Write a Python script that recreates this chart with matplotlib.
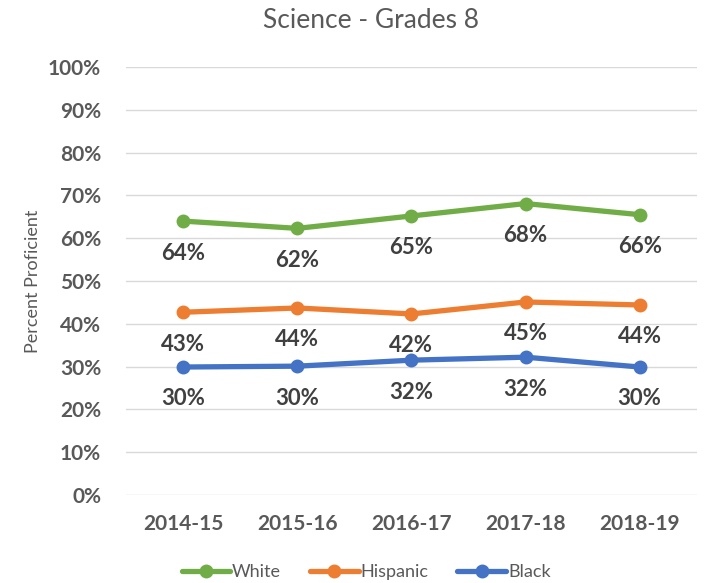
import matplotlib.pyplot as plt
from matplotlib.ticker import PercentFormatter

plt.rcParams['font.family'] = ['Lato', 'DejaVu Sans']

years = ['2014-15', '2015-16', '2016-17', '2017-18', '2018-19']
white = [0.640, 0.623, 0.652, 0.681, 0.655]
hispanic = [0.427, 0.437, 0.423, 0.451, 0.444]
black = [0.299, 0.301, 0.315, 0.322, 0.299]

series = [('White', white, '#70AD47'),
          ('Hispanic', hispanic, '#ED7D31'),
          ('Black', black, '#4472C4')]

fig = plt.figure(figsize=(7.25, 5.83), dpi=100)
ax = fig.add_axes([0.174, 0.151, 0.787, 0.734])

x = list(range(len(years)))
for name, vals, color in series:
    ax.plot(x, vals, color=color, lw=3.8, marker='o', ms=9, label=name,
            solid_capstyle='round')
    for xi, v in zip(x, vals):
        ax.annotate(f'{round(v * 100):.0f}%', (xi, v), xytext=(0, -23),
                    textcoords='offset points', ha='center', va='center',
                    fontsize=16, fontweight='bold', color='#404040')

ax.set_xlim(-0.5, len(years) - 0.5)
ax.set_ylim(0, 1)
ax.set_yticks([i / 10 for i in range(11)])
ax.yaxis.set_major_formatter(PercentFormatter(1.0, decimals=0))
ax.set_xticks(x)
ax.set_xticklabels(years)
ax.grid(axis='y', color='#D9D9D9', lw=1)
ax.set_axisbelow(True)
for s in ax.spines.values():
    s.set_visible(False)
ax.tick_params(length=0, labelsize=15, labelcolor='#595959')
ax.tick_params(axis='y', pad=18)
ax.tick_params(axis='x', pad=14)
for lbl in ax.get_xticklabels() + ax.get_yticklabels():
    lbl.set_fontweight('bold')

ax.set_ylabel('Percent Proficient', fontsize=13, color='#595959', labelpad=5)
fig.suptitle('Science - Grades 8', x=0.512, y=0.965, va='center',
             fontsize=19, color='#595959')

handles, labels = ax.get_legend_handles_labels()
fig.legend(handles, labels, loc='center', bbox_to_anchor=(0.505, 0.019), ncol=3,
           frameon=False, fontsize=13, labelcolor='#595959', handlelength=2.7,
           handletextpad=0.1, columnspacing=1.6)

fig.savefig('out.png')
